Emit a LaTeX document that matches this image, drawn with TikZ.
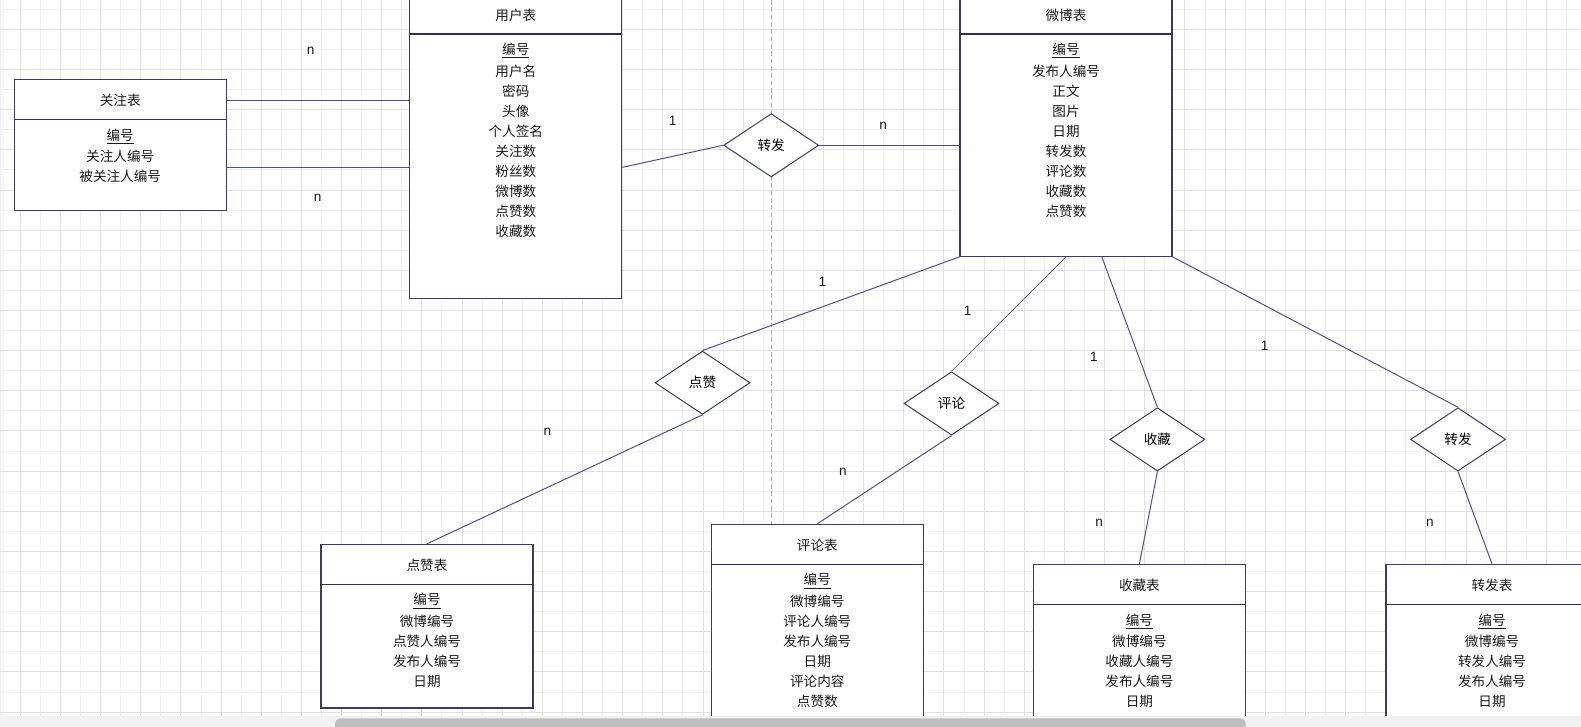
\documentclass[tikz,border=0pt]{standalone}
\usepackage{fontspec}
\setmainfont{Liberation Sans}
\newfontfamily\cjk{Noto Sans CJK SC}
\usetikzlibrary{shapes.geometric,calc}
\definecolor{bordc}{RGB}{56,60,104}
\definecolor{connc}{RGB}{72,82,150}
\definecolor{gridd}{RGB}{224,224,226}
\definecolor{gridl}{RGB}{241,241,243}
\definecolor{pbc}{RGB}{175,175,178}
\definecolor{stripc}{RGB}{241,241,241}
\definecolor{thumbc}{RGB}{190,190,190}
\pgfdeclarelayer{gridlayer}
\pgfdeclarelayer{toplayer}
\pgfsetlayers{gridlayer,main,toplayer}
\tikzset{
  tbl/.style={draw=bordc, fill=white, line width=0.8pt, minimum width=159pt, inner sep=0pt, rectangle},
  ttl/.style={font=\cjk\fontsize{10.2}{12}\selectfont, inner sep=0pt, text=black!90},
  attr/.style={font=\cjk\fontsize{10.2}{12}\selectfont, inner sep=0pt, text=black!90},
  dvd/.style={draw=bordc!80!black, line width=0.9pt},
  rel/.style={shape=diamond, draw=bordc, fill=white, line width=0.75pt, inner sep=0pt,
    minimum width=71.25pt, minimum height=47.5pt, font=\cjk\fontsize{10.2}{12}\selectfont},
  conn/.style={draw=connc, line width=0.75pt},
  card/.style={font=\fontsize{10.2}{12}\selectfont, inner sep=0pt, text=black!90},
  pagebreak/.style={draw=pbc, line width=0.75pt, dash pattern=on 3.5pt off 2pt},
}
\newcommand\ertable[6]{%
  \node[tbl, minimum height={#4*0.75pt}] (#1) at (#2,{#3+#4/2}) {};
  \node[ttl] (#1-t) at (#2,{#3+21}) {#5};
  \draw[dvd] ([yshift=-30.4pt]#1.north west) -- ([yshift=-30.4pt]#1.north east);
  \foreach \a [count=\i] in {#6}
    \node[attr] (#1-a\i) at (#2,{#3+40.5+16.3+20.07*(\i-1)}) {\a};
}
\begin{document}
\begin{tikzpicture}[x=0.75pt,y=-0.75pt]
\clip (0,0) rectangle (1581,726);
\begin{pgfonlayer}{gridlayer}
  \fill[white] (0,0) rectangle (1581,726);
  \fill[black!3] (0,0) rectangle (4,716);
  \foreach \k in {0,2,...,78}
    \draw[gridl, line width=0.75pt] ({0.2+20.08*\k},0) -- ({0.2+20.08*\k},716);
  \foreach \k in {0,2,...,34}
    \draw[gridl, line width=0.75pt] (0,{9.3+20.08*\k}) -- (1581,{9.3+20.08*\k});
  \foreach \k in {1,3,...,77}
    \draw[gridd, line width=0.75pt] ({0.2+20.08*\k},0) -- ({0.2+20.08*\k},716);
  \foreach \k in {1,3,...,35}
    \draw[gridd, line width=0.75pt] (0,{9.3+20.08*\k}) -- (1581,{9.3+20.08*\k});
\end{pgfonlayer}

% tables
\ertable{gz}{120.2}{79.7}{131}{关注表}{\underline{编号},关注人编号,被关注人编号}
\ertable{yh}{515.8}{-6}{304.5}{用户表}{\underline{编号},用户名,密码,头像,个人签名,关注数,粉丝数,微博数,点赞数,收藏数}
\ertable{wb}{1066}{-6}{262.3}{微博表}{\underline{编号},发布人编号,正文,图片,日期,转发数,评论数,收藏数,点赞数}
\ertable{dzb}{427}{544.3}{163.7}{点赞表}{\underline{编号},微博编号,点赞人编号,发布人编号,日期}
\ertable{plb}{817.3}{524.3}{220}{评论表}{\underline{编号},微博编号,评论人编号,发布人编号,日期,评论内容,点赞数}
\ertable{scb}{1139.4}{564.4}{180}{收藏表}{\underline{编号},微博编号,收藏人编号,发布人编号,日期}
\ertable{zfb}{1492}{564.4}{180}{转发表}{\underline{编号},微博编号,转发人编号,发布人编号,日期}

% relationships
\node[rel] (zf1) at (771.2,145.3) {转发};
\node[rel] (dz) at (702.5,382.7) {点赞};
\node[rel] (pl) at (951.5,403.4) {评论};
\node[rel] (sc) at (1157.4,439.4) {收藏};
\node[rel] (zf2) at (1458,439.4) {转发};

% page break line (behind shapes)
\coordinate (pbtop) at (771.5,0);
\begin{pgfonlayer}{gridlayer}
  \draw[pagebreak] (pbtop) -- (pbtop |- plb.north);
\end{pgfonlayer}

% connectors
\coordinate (gz1) at ($(gz.north east)!0.161!(gz.south east)$);
\coordinate (gz2) at ($(gz.north east)!0.669!(gz.south east)$);
\draw[conn] (gz1) -- (gz1 -| yh.west);
\draw[conn] (gz2) -- (gz2 -| yh.west);
\coordinate (yh1) at ($(yh.north east)!0.569!(yh.south east)$);
\draw[conn] (yh1) -- (zf1.west);
\draw[conn] (zf1.east) -- (zf1.east -| wb.west);
\coordinate (wb1) at ($(wb.south west)!0.668!(wb.south east)$);
\draw[conn] (wb.south west) -- (dz.north);
\draw[conn] (dz.south) -- (dzb.north);
\draw[conn, line width=0.5pt] (wb.south) -- (pl.north);
\draw[conn] (pl.south) -- (plb.north);
\draw[conn] (wb1) -- (sc.north);
\draw[conn] (sc.south) -- (scb.north);
\draw[conn] (wb.south east) -- (zf2.north);
\draw[conn] (zf2.south) -- (zfb.north);

% cardinalities
\node[card] (c1) at (310.6,50.4) {n};
\node[card] (c2) at (317.6,197.6) {n};
\node[card] (c3) at (672.7,120.4) {1};
\node[card] (c4) at (883.2,125.4) {n};
\node[card] (c5) at (822.5,281.5) {1};
\node[card] (c6) at (967.6,310.8) {1};
\node[card] (c7) at (1093.8,356.4) {1};
\node[card] (c8) at (1264.6,346.3) {1};
\node[card] (c9) at (547.5,431.6) {n};
\node[card] (c10) at (842.8,472.3) {n};
\node[card] (c11) at (1099.2,522.5) {n};
\node[card] (c12) at (1429.8,522.5) {n};

% bottom scrollbar strip
\begin{pgfonlayer}{toplayer}
  \fill[stripc] (0,716) rectangle (1581,730);
  \fill[thumbc, rounded corners=4pt] (335,718.3) rectangle (1245.7,740);
\end{pgfonlayer}
\end{tikzpicture}
\end{document}
